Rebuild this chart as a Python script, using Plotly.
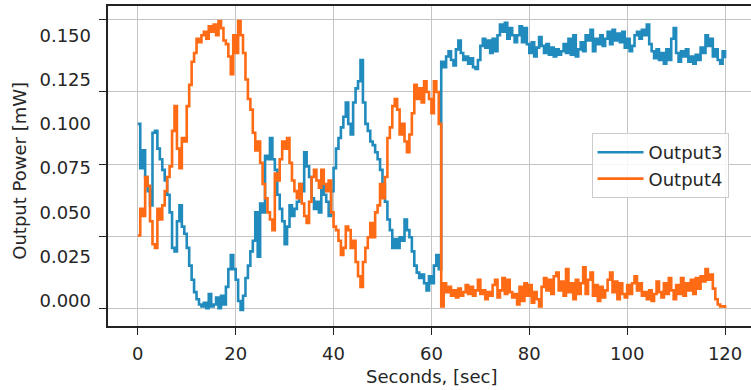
import plotly.graph_objects as go

sample_step = 0.5  # seconds between samples

output3 = [
    0.100, 0.075, 0.085, 0.070, 0.062, 0.054, 0.095, 0.096, 0.086, 0.080, 0.074, 0.068, 0.060, 0.050, 0.030, 0.028, 0.045, 0.054, 0.042, 0.038,
    0.030, 0.020, 0.012, 0.005, 0.001, -0.002, -0.003, -0.001, -0.004, 0.004, -0.003, -0.002, 0.002, -0.004, 0.003, -0.002, 0.008, 0.018, 0.026, 0.018,
    0.012, 0.000, -0.005, 0.003, 0.013, 0.020, 0.028, 0.034, 0.050, 0.025, 0.055, 0.050, 0.082, 0.080, 0.092, 0.080, 0.074, 0.060, 0.052, 0.045,
    0.032, 0.042, 0.054, 0.048, 0.052, 0.056, 0.066, 0.062, 0.084, 0.076, 0.070, 0.058, 0.052, 0.056, 0.050, 0.065, 0.060, 0.056, 0.048, 0.062,
    0.075, 0.086, 0.092, 0.098, 0.104, 0.112, 0.100, 0.094, 0.112, 0.120, 0.124, 0.136, 0.112, 0.100, 0.096, 0.090, 0.088, 0.084, 0.080, 0.074,
    0.066, 0.056, 0.046, 0.040, 0.030, 0.035, 0.030, 0.036, 0.034, 0.046, 0.040, 0.036, 0.028, 0.020, 0.016, 0.013, 0.015, 0.010, 0.006, 0.014,
    0.010, 0.020, 0.026, 0.018, 0.135, 0.132, 0.138, 0.141, 0.136, 0.133, 0.142, 0.147, 0.140, 0.136, 0.138, 0.134, 0.137, 0.132, 0.131, 0.136,
    0.144, 0.148, 0.143, 0.147, 0.140, 0.148, 0.141, 0.150, 0.156, 0.152, 0.157, 0.148, 0.154, 0.150, 0.146, 0.150, 0.155, 0.146, 0.154, 0.145,
    0.140, 0.146, 0.138, 0.143, 0.149, 0.144, 0.140, 0.145, 0.139, 0.143, 0.138, 0.142, 0.139, 0.141, 0.145, 0.140, 0.148, 0.139, 0.150, 0.138,
    0.142, 0.146, 0.141, 0.150, 0.147, 0.153, 0.141, 0.148, 0.145, 0.150, 0.144, 0.148, 0.152, 0.145, 0.153, 0.147, 0.151, 0.146, 0.152, 0.143,
    0.148, 0.141, 0.144, 0.150, 0.152, 0.148, 0.153, 0.150, 0.156, 0.145, 0.141, 0.137, 0.142, 0.136, 0.140, 0.134, 0.142, 0.136, 0.148, 0.154,
    0.140, 0.135, 0.141, 0.138, 0.142, 0.135, 0.138, 0.134, 0.139, 0.136, 0.143, 0.140, 0.150, 0.144, 0.148, 0.138, 0.142, 0.136, 0.134, 0.141,
    0.137,
]

output4 = [
    0.037, 0.052, 0.048, 0.070, 0.065, 0.045, 0.032, 0.030, 0.052, 0.046, 0.054, 0.062, 0.070, 0.076, 0.096, 0.110, 0.086, 0.075, 0.092, 0.090,
    0.110, 0.122, 0.135, 0.140, 0.148, 0.146, 0.150, 0.152, 0.148, 0.155, 0.152, 0.156, 0.150, 0.158, 0.154, 0.147, 0.145, 0.138, 0.128, 0.150,
    0.140, 0.158, 0.150, 0.140, 0.125, 0.114, 0.108, 0.095, 0.085, 0.090, 0.078, 0.066, 0.058, 0.050, 0.046, 0.040, 0.072, 0.068, 0.080, 0.090,
    0.086, 0.092, 0.078, 0.068, 0.062, 0.058, 0.066, 0.055, 0.048, 0.044, 0.056, 0.070, 0.074, 0.068, 0.064, 0.074, 0.066, 0.062, 0.068, 0.050,
    0.042, 0.040, 0.034, 0.026, 0.030, 0.042, 0.040, 0.030, 0.034, 0.022, 0.014, 0.008, 0.022, 0.030, 0.036, 0.044, 0.036, 0.050, 0.054, 0.066,
    0.058, 0.070, 0.092, 0.098, 0.110, 0.114, 0.108, 0.094, 0.100, 0.090, 0.084, 0.094, 0.106, 0.122, 0.114, 0.120, 0.112, 0.124, 0.118, 0.114,
    0.106, 0.124, 0.118, 0.100, -0.003, 0.010, 0.005, 0.008, 0.003, 0.006, 0.002, 0.007, 0.003, 0.005, 0.009, 0.004, 0.008, 0.003, 0.006, 0.012,
    0.004, 0.006, 0.001, 0.005, 0.003, 0.009, 0.012, 0.002, 0.006, 0.013, 0.004, 0.012, 0.005, 0.002, 0.004, -0.002, 0.008, 0.000, 0.010, 0.003,
    0.009, -0.001, 0.005, 0.001, -0.003, 0.008, 0.013, 0.006, 0.012, 0.004, 0.014, 0.016, 0.006, 0.011, 0.003, 0.018, 0.005, 0.010, 0.001, 0.012,
    0.004, 0.010, 0.019, 0.004, 0.012, 0.016, 0.003, 0.009, 0.000, 0.008, 0.002, 0.006, 0.012, 0.016, 0.005, 0.011, 0.001, 0.010, 0.004, 0.002,
    0.009, 0.004, 0.010, 0.014, 0.006, 0.010, 0.003, 0.005, 0.001, 0.006, 0.000, 0.004, 0.011, 0.005, 0.002, 0.010, 0.004, 0.013, 0.006, 0.001,
    0.009, 0.004, 0.013, 0.003, 0.010, 0.006, 0.012, 0.004, 0.013, 0.007, 0.014, 0.011, 0.018, 0.012, 0.015, 0.007, 0.001, -0.002, -0.003, -0.003,
    -0.004,
]

seconds = [i * sample_step for i in range(len(output3))]

x_ticks = [0, 20, 40, 60, 80, 100, 120]
y_label_vals = [0.000, 0.025, 0.050, 0.075, 0.100, 0.125, 0.150]
y_label_text = ["0.000", "0.025", "0.050", "0.075", "0.100", "0.125", "0.150"]
y_grid_vals = [-0.0045, 0.0364, 0.0773, 0.1181, 0.1590]

x_range = [-6.09, 125.3]
y_range = [-0.0141, 0.1665]

BLUE = "#228bbd"
ORANGE = "#ff6a14"
FONT = "DejaVu Sans"
TXT = "#262626"

fig = go.Figure()
fig.add_trace(go.Scatter(x=seconds, y=output3, mode="lines", name="Output3",
                         line=dict(color=BLUE, width=2.6, shape="hv")))
fig.add_trace(go.Scatter(x=seconds, y=output4, mode="lines", name="Output4",
                         line=dict(color=ORANGE, width=2.6, shape="hv")))
# invisible trace to carry the label axis
fig.add_trace(go.Scatter(x=[None], y=[None], yaxis="y2", showlegend=False, hoverinfo="skip"))

fig.update_layout(
    width=751, height=390,
    margin=dict(l=108, r=0, t=6, b=64),
    paper_bgcolor="white", plot_bgcolor="white",
    font=dict(family=FONT, size=18, color=TXT),
    showlegend=True,
    legend=dict(x=0.752, y=0.603, xanchor="left", yanchor="top",
                bgcolor="rgba(255,255,255,0.85)", bordercolor="#cccccc", borderwidth=1,
                font=dict(family=FONT, size=18, color=TXT),
                itemwidth=46, tracegroupgap=0),
    xaxis=dict(range=x_range, tickvals=x_ticks, ticktext=[str(v) for v in x_ticks],
               showgrid=True, gridcolor="#c4c4c4", gridwidth=1.3,
               zeroline=False, showline=True, linecolor="#222", linewidth=1.6, mirror=True,
               ticks="outside", ticklen=7, tickwidth=1.3, tickcolor="#222",
               ticklabelstandoff=4,
               tickfont=dict(family=FONT, size=18, color=TXT)),
    yaxis=dict(range=y_range, tickvals=y_grid_vals, showticklabels=False,
               showgrid=True, gridcolor="#c4c4c4", gridwidth=1.3,
               zeroline=False, showline=True, linecolor="#222", linewidth=1.6,
               ticks="outside", ticklen=7, tickwidth=1.3, tickcolor="#222"),
    yaxis2=dict(range=y_range, overlaying="y", side="left",
                tickvals=y_label_vals, ticktext=y_label_text,
                showgrid=False, zeroline=False, showline=False, ticks="",
                ticklabelstandoff=16,
                tickfont=dict(family=FONT, size=18, color=TXT)),
    annotations=[
        dict(text="Seconds, [sec]", xref="paper", yref="paper", x=0.503, y=-0.158,
             xanchor="center", yanchor="middle", showarrow=False,
             font=dict(family=FONT, size=18, color=TXT)),
        dict(text="Output Power [mW]", xref="paper", yref="paper", x=-0.137, y=0.485,
             xanchor="center", yanchor="middle", showarrow=False, textangle=-90,
             font=dict(family=FONT, size=18, color=TXT)),
    ],
)

fig.write_html("out.html")
